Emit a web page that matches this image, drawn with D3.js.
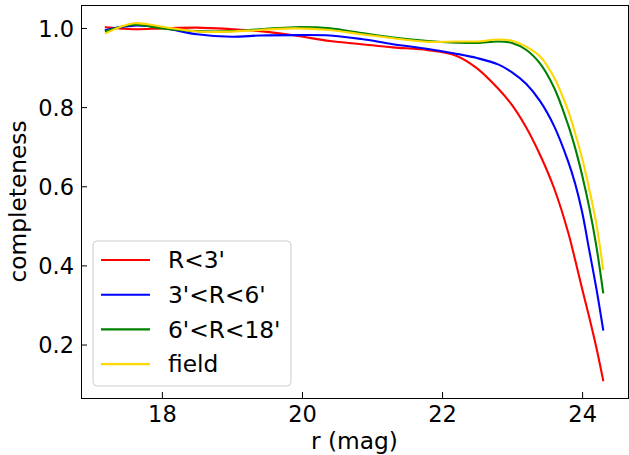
<!DOCTYPE html>
<html>
<head>
<meta charset="utf-8">
<script src="https://cdn.jsdelivr.net/npm/d3@7"></script>
<style>
  body { margin: 0; background: #fff; }
  text { font-family: "DejaVu Sans", sans-serif; fill: #000; }
</style>
</head>
<body>
<div id="chart"></div>
<script>
// magnitudes (shared x grid for all four curves)
const mags = [17.2, 17.6, 18.0, 18.5, 19.0, 19.4, 19.9, 20.4, 20.85, 21.3, 21.8,
              22.2, 22.5, 22.8, 23.0, 23.2, 23.4, 23.6, 23.8, 23.9, 24.0, 24.1, 24.2, 24.3];

// completeness per radial bin
const inner = [1.002, 0.997, 0.999, 1.001, 0.997, 0.992, 0.981, 0.967, 0.959, 0.951, 0.944,
               0.930, 0.898, 0.847, 0.805, 0.749, 0.679, 0.595, 0.484, 0.414, 0.341, 0.270, 0.195, 0.110];
const middle = [0.995, 1.006, 1.001, 0.984, 0.978, 0.981, 0.982, 0.981, 0.972, 0.959, 0.947,
                0.935, 0.924, 0.908, 0.888, 0.859, 0.815, 0.752, 0.663, 0.607, 0.535, 0.440, 0.345, 0.238];
const outer = [0.992, 1.008, 0.999, 0.992, 0.992, 0.997, 1.002, 0.999, 0.987, 0.976, 0.967,
               0.963, 0.962, 0.966, 0.962, 0.945, 0.910, 0.849, 0.755, 0.697, 0.628, 0.548, 0.452, 0.332];
const field = [0.987, 1.012, 1.003, 0.991, 0.991, 0.995, 0.999, 0.995, 0.984, 0.974, 0.965,
               0.966, 0.966, 0.971, 0.968, 0.953, 0.928, 0.875, 0.791, 0.734, 0.671, 0.594, 0.508, 0.391];

const labels = ["R<3'", "3'<R<6'", "6'<R<18'", "field"];
const colors = ["red", "blue", "green", "gold"];
const xTicks = [18, 20, 22, 24];
const yTicks = [0.2, 0.4, 0.6, 0.8, 1.0];

const series = [inner, middle, outer, field];

const W = 629, H = 455;
const margin = { top: 5, right: 1, bottom: 57, left: 81 };
const width = W - margin.left - margin.right,
      height = H - margin.top - margin.bottom;
const tickFont = 22.5, labelFont = 23.3;

const svg = d3.select("#chart").append("svg")
    .attr("width", W).attr("height", H);

const g = svg.append("g")
    .attr("transform", `translate(${margin.left},${margin.top})`);

const x = d3.scaleLinear().domain([16.845, 24.655]).range([0, width]);
const y = d3.scaleLinear().domain([0.0649, 1.0581]).range([height, 0]);

g.append("defs").append("clipPath").attr("id", "clip")
  .append("rect").attr("width", width).attr("height", height);

const line = d3.line()
    .x((d, i) => x(mags[i]))
    .y(d => y(d))
    .curve(d3.curveCatmullRom.alpha(0.5));

g.append("g").attr("clip-path", "url(#clip)")
  .selectAll("path")
  .data(series)
  .enter().append("path")
    .attr("d", d => line(d))
    .attr("fill", "none")
    .attr("stroke", (d, i) => colors[i])
    .attr("stroke-width", 2.1)
    .attr("stroke-linejoin", "round")
    .attr("stroke-linecap", "square");

// axes, ticks pointing inward
const xAxis = g.append("g")
    .attr("transform", `translate(0,${height})`)
    .call(d3.axisBottom(x).tickValues(xTicks).tickSizeInner(-6).tickSizeOuter(0).tickFormat(d3.format("d")));
const yAxis = g.append("g")
    .call(d3.axisLeft(y).tickValues(yTicks).tickSizeInner(-6).tickSizeOuter(0).tickFormat(d3.format(".1f")));

[xAxis, yAxis].forEach(a => {
  a.select(".domain").remove();
  a.selectAll(".tick line").attr("stroke", "#000").attr("stroke-width", 1);
  a.selectAll(".tick text").attr("font-size", tickFont).attr("font-family", "DejaVu Sans");
});
xAxis.selectAll(".tick text").attr("y", 24).attr("dy", 0);
yAxis.selectAll(".tick text").attr("x", -7).attr("dy", "0.36em");

// frame
g.append("rect")
    .attr("width", width).attr("height", height)
    .attr("fill", "none").attr("stroke", "#000").attr("stroke-width", 1)
    .attr("shape-rendering", "crispEdges");

// axis titles
svg.append("text")
    .attr("x", margin.left + width / 2).attr("y", 448.5)
    .attr("text-anchor", "middle").attr("font-size", labelFont)
    .text("r (mag)");
svg.append("text")
    .attr("transform", `translate(26,${margin.top + height / 2}) rotate(-90)`)
    .attr("text-anchor", "middle").attr("font-size", labelFont)
    .text("completeness");

// legend
const legend = svg.append("g").attr("transform", "translate(93,241)");
legend.append("rect")
    .attr("width", 198).attr("height", 145).attr("rx", 4)
    .attr("fill", "#fff").attr("fill-opacity", 0.8)
    .attr("stroke", "#ccc").attr("stroke-width", 1);
labels.forEach((lab, i) => {
  const cy = 19 + i * 34.7;
  legend.append("line")
      .attr("x1", 8).attr("x2", 57).attr("y1", cy).attr("y2", cy)
      .attr("stroke", colors[i]).attr("stroke-width", 2.1);
  legend.append("text")
      .attr("x", 75).attr("y", cy).attr("dy", "0.36em")
      .attr("font-size", labelFont).text(lab);
});
</script>
</body>
</html>
